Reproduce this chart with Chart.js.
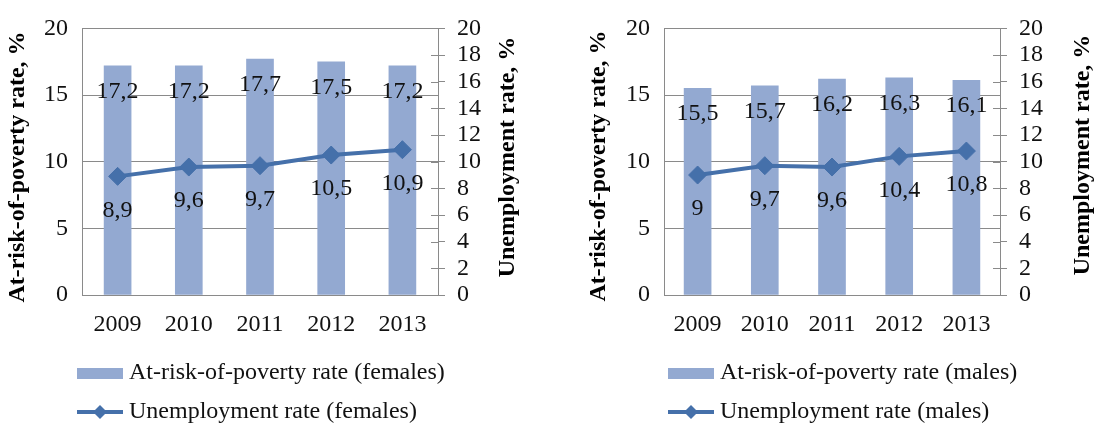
<!DOCTYPE html>
<html>
<head>
<meta charset="utf-8">
<script src="https://cdn.jsdelivr.net/npm/chart.js@4/dist/chart.umd.min.js"></script>
<style>
  html, body { margin: 0; padding: 0; background: #fff; }
  #wrap { position: relative; width: 1098px; height: 428px; }
  .box { position: absolute; top: 0; width: 549px; height: 428px; }
</style>
</head>
<body>
<div id="wrap">
  <div class="box" style="left:0"><canvas id="females" width="549" height="428"></canvas></div>
  <div class="box" style="left:549px"><canvas id="males" width="549" height="428"></canvas></div>
</div>
<script>
// data
const years = ['2009', '2010', '2011', '2012', '2013'];
const povertyFemales = [17.2, 17.2, 17.7, 17.5, 17.2];
const unemploymentFemales = [8.9, 9.6, 9.7, 10.5, 10.9];
const povertyMales = [15.5, 15.7, 16.2, 16.3, 16.1];
const unemploymentMales = [9, 9.7, 9.6, 10.4, 10.8];
const povertyTicks = [0, 5, 10, 15, 20];
const unemploymentTicks = [0, 2, 4, 6, 8, 10, 12, 14, 16, 18, 20];

const BAR = '#93a9d1';
const LINE = '#4570aa';
const GRID = '#8a8a8a';
const FONT = "'Liberation Serif', 'Times New Roman', serif";

Chart.defaults.font.family = FONT;
Chart.defaults.font.size = 24;
Chart.defaults.color = '#111';

// comma as decimal sign, like the original
const fmt = (v) => String(v).replace('.', ',');

// legend pictures: a flat box and a line with a diamond
function barIcon() {
  const c = document.createElement('canvas');
  c.width = 46; c.height = 11;
  const g = c.getContext('2d');
  g.fillStyle = BAR;
  g.fillRect(0, 0, 46, 11);
  return c;
}
function lineIcon() {
  const c = document.createElement('canvas');
  c.width = 46; c.height = 16;
  const g = c.getContext('2d');
  g.strokeStyle = LINE;
  g.lineWidth = 4;
  g.beginPath(); g.moveTo(0, 8); g.lineTo(46, 8); g.stroke();
  g.fillStyle = LINE;
  g.beginPath();
  g.moveTo(23 - 7, 8); g.lineTo(23, 1); g.lineTo(23 + 7, 8); g.lineTo(23, 15);
  g.closePath(); g.fill();
  return c;
}
const icons = [barIcon(), lineIcon()];

// numbers on the bars and under the points
const valueLabels = {
  id: 'valueLabels',
  afterDatasetsDraw(chart) {
    const ctx = chart.ctx;
    ctx.save();
    ctx.font = '24px ' + FONT;
    ctx.fillStyle = '#111';
    ctx.textAlign = 'center';
    ctx.textBaseline = 'middle';
    chart.data.datasets.forEach((ds, i) => {
      const meta = chart.getDatasetMeta(i);
      const dy = ds.type === 'bar' ? 25.5 : 34;
      meta.data.forEach((el, j) => {
        ctx.fillText(fmt(ds.data[j]), el.x, el.y + dy);
      });
    });
    ctx.restore();
  }
};

// rotated axis titles (both read bottom-to-top) + inner half of the cross ticks
const axisDecor = {
  id: 'axisDecor',
  afterDraw(chart, args, o) {
    const ctx = chart.ctx;
    const area = chart.chartArea;
    const y1 = chart.scales.y1;
    ctx.save();
    ctx.strokeStyle = GRID;
    ctx.lineWidth = 1;
    y1.ticks.forEach((t) => {
      const py = Math.round(y1.getPixelForValue(t.value)) + 0.5;
      ctx.beginPath();
      ctx.moveTo(area.right - 7, py);
      ctx.lineTo(area.right, py);
      ctx.stroke();
    });
    ctx.font = 'bold 24px ' + FONT;
    ctx.fillStyle = '#000';
    ctx.textAlign = 'center';
    ctx.textBaseline = 'middle';
    o.titles.forEach((t) => {
      ctx.save();
      ctx.translate(t.x, t.y);
      ctx.rotate(-Math.PI / 2);
      ctx.fillText(t.text, 0, 0);
      ctx.restore();
    });
    ctx.restore();
  }
};

// put the legend block where the original has it
const legendPlace = {
  id: 'legendPlace',
  afterLayout(chart, args, o) {
    chart.legend.left = o.left;
    chart.legend.top = o.top;
  }
};

function makeChart(id, poverty, unemployment, who, lay) {
  new Chart(document.getElementById(id), {
    type: 'bar',
    data: {
      labels: years,
      datasets: [{
        type: 'bar',
        label: 'At-risk-of-poverty rate (' + who + ')',
        data: poverty,
        backgroundColor: BAR,
        barThickness: 27,
        yAxisID: 'y',
        order: 1
      }, {
        type: 'line',
        label: 'Unemployment rate (' + who + ')',
        data: unemployment,
        borderColor: LINE,
        backgroundColor: LINE,
        borderWidth: 4,
        tension: 0,
        fill: false,
        pointStyle: 'rectRot',
        pointRadius: 9,
        pointBorderWidth: 1,
        pointBackgroundColor: LINE,
        pointBorderColor: LINE,
        yAxisID: 'y1',
        order: 0
      }]
    },
    options: {
      responsive: false,
      animation: false,
      layout: { padding: { top: 20, left: 0, right: 0, bottom: 0 } },
      scales: {
        x: {
          grid: { display: false, drawTicks: false },
          border: { display: true, color: GRID },
          ticks: { padding: 15, font: { size: 24 }, color: '#111' },
          afterFit: (s) => { s.height = 45; }
        },
        y: {
          position: 'left',
          min: 0, max: 20,
          afterBuildTicks: (s) => { s.ticks = povertyTicks.map((v) => ({ value: v })); },
          grid: { color: GRID, drawTicks: false },
          border: { display: true, color: GRID },
          ticks: { padding: 14, autoSkip: false, font: { size: 24 }, color: '#111' },
          afterFit: (s) => { s.width = lay.leftW; }
        },
        y1: {
          position: 'right',
          min: 0, max: 20,
          afterBuildTicks: (s) => { s.ticks = unemploymentTicks.map((v) => ({ value: v })); },
          grid: { drawOnChartArea: false, drawTicks: true, tickLength: 7, color: GRID },
          border: { display: true, color: GRID },
          ticks: { padding: 12, autoSkip: false, font: { size: 24 }, color: '#111' },
          afterFit: (s) => { s.width = lay.rightW; }
        }
      },
      plugins: {
        tooltip: { enabled: false },
        legend: {
          position: 'bottom',
          align: 'start',
          labels: {
            usePointStyle: true,
            pointStyleWidth: 34,
            padding: 15,
            color: '#111',
            font: { size: 24 },
            generateLabels(chart) {
              const items = Chart.defaults.plugins.legend.labels.generateLabels(chart);
              items.forEach((it) => { it.pointStyle = icons[it.datasetIndex]; });
              return items.sort((a, b) => a.datasetIndex - b.datasetIndex);
            }
          }
        },
        legendPlace: { left: lay.legendLeft, top: 346 },
        axisDecor: {
          titles: [
            { text: 'At-risk-of-poverty rate, %', x: lay.leftTitleX, y: lay.leftTitleY },
            { text: 'Unemployment rate, %', x: lay.rightTitleX, y: lay.rightTitleY }
          ]
        }
      }
    },
    plugins: [valueLabels, axisDecor, legendPlace]
  });
}

makeChart('females', povertyFemales, unemploymentFemales, 'females', {
  leftW: 82, rightW: 111, legendLeft: 68,
  leftTitleX: 18, leftTitleY: 167, rightTitleX: 508, rightTitleY: 157
});
makeChart('males', povertyMales, unemploymentMales, 'males', {
  leftW: 115, rightW: 98, legendLeft: 110,
  leftTitleX: 50, leftTitleY: 166, rightTitleX: 534, rightTitleY: 155
});
</script>
</body>
</html>
